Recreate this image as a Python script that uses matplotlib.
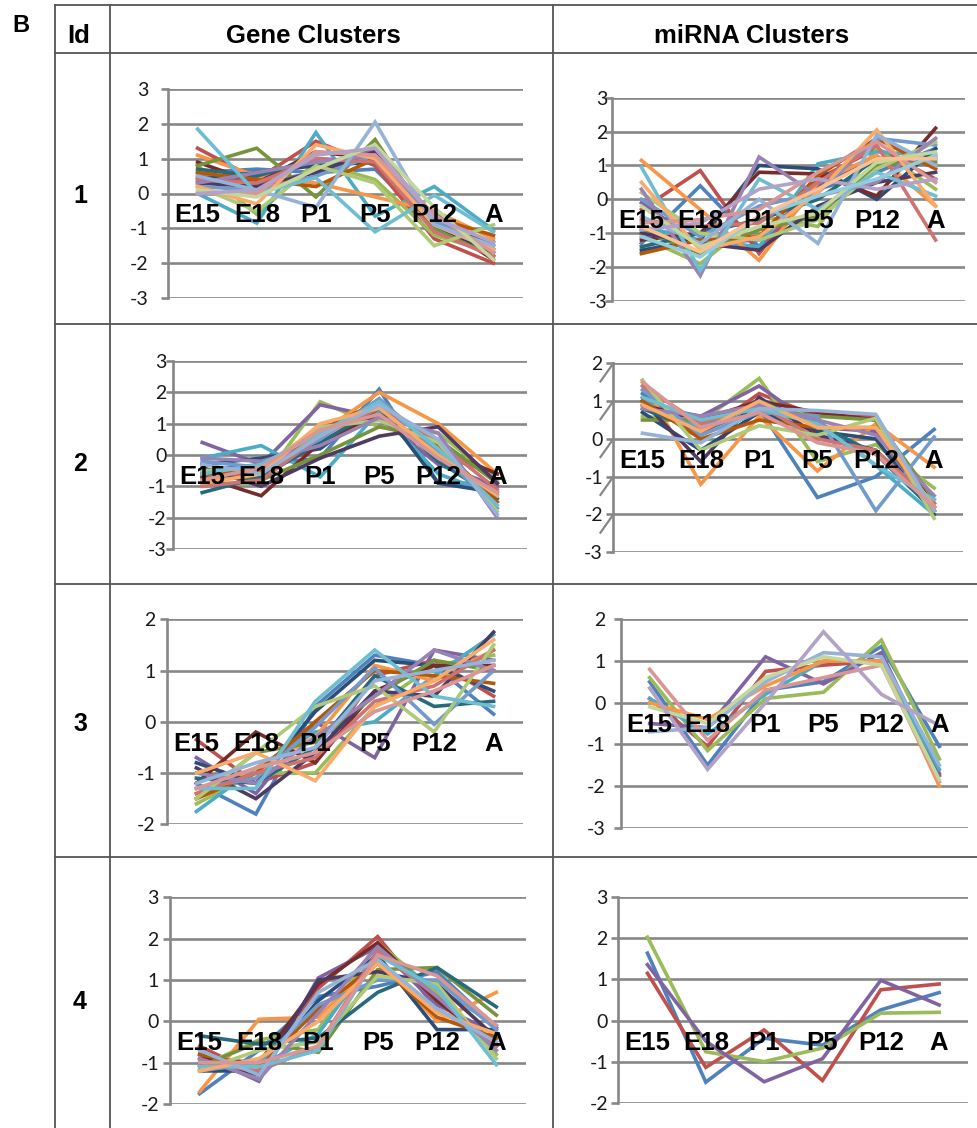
import matplotlib.pyplot as plt
from matplotlib.lines import Line2D

plt.rcParams['font.family'] = ['Lato', 'DejaVu Sans']
plt.rcParams['axes.unicode_minus'] = False

stages = ['E15', 'E18', 'P1', 'P5', 'P12', 'A']

# Excel 2010 default series colours
palette = ['#4F81BD', '#C0504D', '#9BBB59', '#8064A2', '#4BACC6', '#F79646',
           '#2C4D75', '#772C2A', '#77933C', '#4D3B62', '#276A7C', '#B65708',
           '#729ACA', '#CD7371', '#AFC97A', '#9983B5', '#6FBDD1', '#F9AB6B',
           '#95B3D7', '#D99694', '#C3D69B', '#B3A2C7', '#93CDDD', '#FAC090']

# ---- gene cluster 1
gene1 = [
    [0.6, 0.7, 0.6, 0.7, -1.0, -1.6],
    [1.3, 0.4, 1.5, 0.8, -1.3, -2.0],
    [0.8, -0.6, 0.9, 0.4, -1.2, -1.7],
    [0.5, 0.3, 0.6, 1.3, -0.7, -1.8],
    [0.0, -0.85, 1.75, -0.65, 0.2, -1.05],
    [1.1, 0.5, 0.3, -0.1, -0.5, -1.3],
    [0.4, 0.6, 0.8, 0.9, -1.0, -1.4],
    [0.9, 0.3, 1.2, 1.0, -0.8, -1.9],
    [0.8, 1.3, -0.1, 1.55, -1.0, -1.8],
    [0.3, 0.2, 0.6, 1.2, -0.9, -1.7],
    [0.7, 0.5, 1.0, 0.9, -0.6, -1.5],
    [0.6, 0.4, 0.2, 1.0, -0.7, -1.2],
    [0.2, 0.1, 0.5, 1.1, -0.8, -1.6],
    [0.4, 0.3, 1.0, 0.9, -1.1, -1.8],
    [0.2, -0.5, 0.8, 0.3, -1.5, -0.9],
    [0.3, 0.6, 0.9, 1.1, -0.9, -1.6],
    [1.85, 0.0, 0.45, -1.1, -0.05, -1.1],
    [0.2, -0.3, 1.4, 1.0, -0.9, -1.6],
    [0.5, 0.1, -0.4, 2.05, -0.9, -1.5],
    [0.0, 0.0, 1.2, 1.1, -0.6, -1.7],
    [0.1, -0.1, 0.7, 1.4, -0.4, -1.9],
    [0.0, 0.1, 1.1, 1.3, -0.7, -1.4],
]

# ---- miRNA cluster 1
mirna1 = [
    [-1.3, 0.4, -1.4, 0.3, 0.8, 1.5],
    [-0.3, 0.85, -1.6, 0.6, 1.5, 0.6],
    [-1.1, -1.9, -0.5, -0.8, 1.5, 0.3],
    [-0.1, -1.3, -1.2, 0.4, 1.2, 1.0],
    [-0.8, -1.2, -1.4, 1.05, 1.4, 1.3],
    [1.15, -0.3, -1.8, 0.5, 1.3, -0.2],
    [-1.5, -1.2, 1.0, 0.9, 0.0, 1.5],
    [-1.2, -1.0, 0.8, 0.75, 0.1, 2.1],
    [-0.9, -1.6, -0.9, -0.5, 1.0, 1.1],
    [-1.0, -1.3, -1.5, -0.2, 0.5, 0.8],
    [-1.4, -1.0, -0.6, 0.0, 1.2, 1.2],
    [-1.6, -1.2, -1.1, 0.7, 1.8, 0.9],
    [0.0, -1.1, -0.2, 0.2, 1.8, 1.6],
    [-0.6, -0.8, -0.7, 0.5, 1.6, -1.2],
    [0.2, -1.0, -1.2, -0.6, 0.9, 1.7],
    [0.3, -2.25, 1.25, 0.1, 0.5, 1.8],
    [0.95, -2.1, 0.6, -0.3, 0.8, 0.1],
    [0.5, -1.5, -1.1, 0.2, 2.05, -0.2],
    [-0.5, -1.3, 0.0, -1.3, 1.9, 1.0],
    [-0.7, -0.6, -0.3, 0.8, 1.7, 0.5],
    [-0.2, -1.4, -0.8, -0.4, 1.1, 1.4],
    [-0.9, -0.7, 0.3, 0.6, 0.3, 0.6],
    [-1.1, -1.7, -0.5, 0.1, 0.6, 1.3],
    [-0.8, -1.55, -0.5, 0.3, 1.2, 1.2],
]

# ---- gene cluster 2
gene2 = [
    [-0.5, -0.3, -0.1, 2.1, -0.9, -0.9],
    [-0.7, -0.6, 0.3, 1.4, 0.0, -0.6],
    [-0.9, -0.9, 1.7, 0.9, 0.7, -0.8],
    [0.4, -0.3, 1.6, 1.2, -0.3, -1.0],
    [-0.1, 0.3, -0.7, 1.4, -0.6, -1.3],
    [-0.8, -0.7, 0.7, 2.0, 1.0, -0.6],
    [-0.3, -0.1, 0.2, 1.6, -0.9, -1.2],
    [-0.7, -1.3, 0.4, 1.3, 0.2, -0.6],
    [-0.6, -0.8, 0.0, 0.9, 0.5, -0.9],
    [-0.4, -1.0, -0.1, 0.6, 0.9, -0.9],
    [-1.2, -0.7, 0.4, 1.5, -0.2, -1.4],
    [-0.6, -0.5, 0.8, 1.7, 0.3, -1.5],
    [-0.2, -0.4, 0.5, 1.8, 0.1, -1.7],
    [-1.0, -0.8, 0.6, 1.5, 0.4, -1.1],
    [-0.5, -0.4, 0.9, 1.1, 0.4, -1.8],
    [-0.1, -0.2, 0.3, 1.2, 0.7, -2.0],
    [-0.6, -0.3, 0.7, 1.7, 0.2, -1.6],
    [-0.9, -0.6, 1.0, 1.5, 0.0, -1.3],
    [-0.3, -0.6, 0.6, 1.6, 0.5, -1.9],
    [-0.8, -0.4, 0.8, 1.3, -0.1, -1.2],
]

# ---- miRNA cluster 2
mirna2 = [
    [1.2, 0.2, 0.8, -1.55, -1.0, 0.25],
    [1.1, 0.1, 1.2, 0.6, 0.6, -1.8],
    [0.6, 0.45, 1.6, -0.6, -0.15, -1.3],
    [0.9, 0.6, 1.4, 0.3, 0.2, -1.9],
    [1.0, 0.3, 0.9, 0.5, -0.7, -2.0],
    [1.55, -1.2, 0.6, -0.85, 0.4, -0.75],
    [0.7, -0.3, 0.7, 0.2, 0.0, -2.0],
    [0.9, 0.5, 1.0, 0.7, 0.5, -1.7],
    [0.5, 0.5, 0.8, 0.6, 0.5, -1.6],
    [1.0, -0.6, 1.1, 0.1, -0.3, -1.8],
    [0.8, 0.2, 1.0, 0.4, -0.4, -1.9],
    [1.0, 0.0, 0.5, 0.3, 0.3, -1.9],
    [1.3, 0.1, 0.7, 0.6, -1.9, 0.05],
    [1.4, 0.4, 0.9, 0.0, -0.3, -1.7],
    [1.55, -0.3, 0.35, 0.1, 0.55, -2.1],
    [0.8, 0.6, 0.9, 0.5, 0.1, -1.5],
    [1.1, 0.5, 0.8, 0.4, -0.7, -1.6],
    [0.9, 0.2, 1.0, 0.3, 0.3, -1.8],
    [0.15, -0.1, 0.8, 0.75, 0.65, -1.9],
    [1.5, 0.3, 0.7, -0.1, -0.4, -1.8],
]

# ---- gene cluster 3
gene3 = [
    [-1.2, -1.8, 0.3, 1.3, 1.1, 0.15],
    [-0.35, -1.2, -0.8, 0.9, 1.2, 0.5],
    [-1.6, -1.0, -1.0, 0.3, 1.1, 1.3],
    [-0.7, -1.4, 0.0, -0.7, 1.4, 1.2],
    [-1.75, -0.9, -0.2, 0.0, 0.9, 1.7],
    [-1.4, -0.9, -0.3, 1.1, 0.8, 1.4],
    [-0.8, -1.2, 0.2, 1.2, 1.1, 0.6],
    [-1.2, -0.2, -0.8, 0.6, 1.1, 1.1],
    [-1.5, -0.6, -0.4, 0.5, 1.2, 1.0],
    [-0.9, -1.5, -0.6, 0.6, 0.5, 1.75],
    [-1.1, -1.2, -0.5, 0.9, 0.3, 0.4],
    [-1.5, -1.0, 0.0, 1.0, 0.9, 0.75],
    [-1.3, -1.1, -0.1, 1.05, -0.05, 1.0],
    [-1.4, -1.0, -0.7, 0.4, 0.7, 1.4],
    [-1.5, -0.6, 0.3, 0.7, -0.2, 1.5],
    [-1.0, -1.2, -0.3, 0.5, 1.4, 1.0],
    [-1.3, -1.3, 0.4, 1.4, 0.5, 0.3],
    [-1.0, -0.6, -1.15, 0.3, 0.8, 1.6],
    [-1.2, -0.8, -0.5, 0.8, 1.0, 1.2],
    [-1.3, -0.9, -0.6, 0.2, 0.6, 1.1],
]

# ---- miRNA cluster 3
mirna3 = [
    [0.5, -1.5, 0.3, 0.5, 1.35, -1.05],
    [0.1, -1.05, 0.75, 0.9, 1.0, -1.75],
    [0.6, -1.15, 0.1, 0.25, 1.5, -1.35],
    [-0.5, -0.6, 1.1, 0.45, 1.2, -1.7],
    [0.1, -0.75, 0.2, 1.0, 1.0, -1.6],
    [0.0, -0.4, 0.4, 1.0, 1.0, -2.0],
    [-0.7, -0.6, 0.5, 1.2, 1.1, -1.5],
    [0.8, -0.9, 0.3, 0.6, 0.9, -1.9],
    [-0.1, -0.5, 0.6, 1.1, 0.9, -1.85],
    [0.35, -1.6, 0.0, 1.7, 0.2, -0.55],
]
mirna3_colors = ['#4F81BD', '#C0504D', '#9BBB59', '#8064A2', '#4BACC6', '#F79646',
                 '#95B3D7', '#D99694', '#C3D69B', '#B3A2C7']

# ---- gene cluster 4
gene4 = [
    [-1.75, -0.7, 0.6, 0.85, 1.2, -0.15],
    [-0.6, -1.3, 0.8, 2.05, 0.3, -0.5],
    [-1.1, -0.45, -0.2, 1.9, 0.7, -0.8],
    [-0.8, -1.45, 1.05, 1.8, 0.4, -0.3],
    [-1.0, -1.1, -0.3, 1.7, 0.8, -0.1],
    [-1.7, 0.05, 0.1, 1.5, 0.0, 0.7],
    [-1.2, -1.2, 0.5, 1.6, -0.2, -0.2],
    [-0.9, -1.0, 0.9, 1.9, 0.5, -0.6],
    [-1.1, -0.5, -0.75, 1.25, 1.3, 0.15],
    [-1.0, -1.3, 1.0, 1.2, 0.9, -0.4],
    [-0.35, -0.55, -0.4, 0.7, 1.3, 0.35],
    [-0.8, -1.1, 0.3, 1.4, 0.1, -0.4],
    [-1.2, -1.0, 0.4, 1.0, 1.0, -0.2],
    [-1.0, -1.2, -0.6, 1.7, 0.6, -0.6],
    [-1.2, -0.7, -0.5, 1.1, 0.9, -0.9],
    [-0.9, -1.4, 0.2, 1.8, 0.6, -0.7],
    [-1.1, -1.1, -0.7, 1.6, 0.8, -1.05],
    [-1.2, -0.9, 0.0, 1.4, 0.2, -0.3],
    [-0.7, -1.3, 0.7, 1.5, 0.3, -0.5],
    [-1.0, -1.0, -0.6, 1.6, 1.1, -0.1],
]

# ---- miRNA cluster 4
mirna4 = [
    [1.64, -1.5, -0.43, -0.6, 0.26, 0.68],
    [1.15, -1.14, -0.23, -1.46, 0.75, 0.89],
    [2.03, -0.76, -1.0, -0.67, 0.18, 0.2],
    [1.36, -0.5, -1.49, -0.93, 0.98, 0.38],
]

row_ids = ['1', '2', '3', '4']

W, H = 977, 1128
grid_c = '#878787'
line_c = '#555555'

fig = plt.figure(figsize=(W / 100, H / 100), dpi=100)


def box(l, t, r, b):
    return [l / W, 1 - b / H, (r - l) / W, (b - t) / H]


def panel(rect, series, ymin, ymax, pad, colors=palette, slanted=False):
    ax = fig.add_axes(box(*rect))
    x = list(range(len(stages)))
    for i, s in enumerate(series):
        ax.plot(x, s, color=colors[i % len(colors)], lw=2.6,
                solid_joinstyle='miter', clip_on=False)
    ax.set_xlim(-0.5, len(stages) - 0.5)
    ax.set_ylim(ymin, ymax)
    ax.set_yticks(range(ymin, ymax + 1))
    ax.set_xticks([])
    ax.grid(axis='y', color=grid_c, lw=1.9)
    ax.set_axisbelow(True)
    for side in ['top', 'right', 'bottom']:
        ax.spines[side].set_visible(False)
    ax.spines['left'].set_color(grid_c)
    ax.spines['left'].set_linewidth(1.9)
    ax.tick_params(axis='y', length=5, width=1.9, color=grid_c, pad=pad,
                   labelsize=14, labelcolor='#1a1a1a')
    ax.patch.set_alpha(0)
    if slanted:
        # odd diagonal tick marks on this one axis
        for v in range(ymin + 1, ymax + 1):
            ax.plot([-0.72, -0.5], [v - 0.48, v], color=grid_c, lw=1.6, clip_on=False)
    for i, name in enumerate(stages):
        ax.annotate(name, (i, 0), xytext=(0, -22), textcoords='offset pixels',
                    ha='center', va='center', fontsize=18.5, fontweight='bold',
                    family='Liberation Sans', color='black', zorder=10,
                    annotation_clip=False)
    return ax


panel((168, 89, 523, 298), gene1, -3, 3, 9)
panel((612, 97.7, 965, 301), mirna1, -3, 3, -2)
panel((172.7, 361, 526.7, 549), gene2, -3, 3, -0.5)
panel((613.3, 363.3, 963.3, 552.3), mirna2, -3, 2, 2.5, slanted=True)
panel((166.7, 619.3, 523.3, 824.3), gene3, -2, 2, 3)
panel((620.7, 619.3, 968.3, 827.7), mirna3, -3, 2, 6, colors=mirna3_colors)
panel((170, 897.3, 526, 1104), gene4, -2, 3, 3)
panel((618.3, 897.3, 968.3, 1102.7), mirna4, -2, 3, 2.5)

# table grid
for y in [5, 53, 324, 584, 857]:
    fig.add_artist(Line2D([55 / W, 1.0], [1 - y / H] * 2, transform=fig.transFigure,
                          color=line_c, lw=1.3))
for xv in [55, 110, 553]:
    fig.add_artist(Line2D([xv / W] * 2, [1 - 5 / H, 0], transform=fig.transFigure,
                          color=line_c, lw=1.3))

bold = dict(family='Liberation Sans', fontweight='bold', color='black', va='baseline')
fig.text(21 / W, 1 - 32 / H, 'B', fontsize=17, ha='center', **bold)
fig.text(79 / W, 1 - 43 / H, 'Id', fontsize=18.5, ha='center', **bold)
fig.text(313 / W, 1 - 43 / H, 'Gene Clusters', fontsize=18.5, ha='center', **bold)
fig.text(752 / W, 1 - 43 / H, 'miRNA Clusters', fontsize=18.5, ha='center', **bold)
for rid, yb in zip(row_ids, [203, 471, 731, 1009]):
    fig.text(80 / W, 1 - yb / H, rid, fontsize=18, ha='center', **bold)

fig.savefig('out.png', dpi=100, facecolor='white')
